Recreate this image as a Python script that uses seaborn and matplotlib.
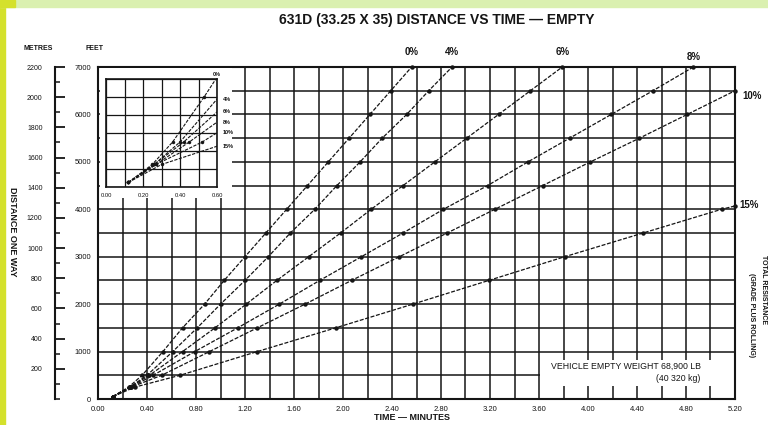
import matplotlib
matplotlib.use('Agg')
import matplotlib.pyplot as plt
import seaborn as sns
import numpy as np
import pandas as pd
from matplotlib.patches import Rectangle
from matplotlib.ticker import MultipleLocator

sns.set_theme(style='white')
plt.rcParams['font.family'] = ['Liberation Sans', 'DejaVu Sans']

# ---------------- data ----------------
grades = ['0%', '4%', '6%', '8%', '10%', '15%']

dist_0 = [50, 250, 500, 1000, 1500, 2000, 2500, 3000, 3500, 4000, 4500, 5000, 5500, 6000, 6500, 7000]
time_0 = [0.12, 0.25, 0.36, 0.53, 0.69, 0.87, 1.03, 1.20, 1.37, 1.54, 1.71, 1.88, 2.05, 2.22, 2.39, 2.56]

dist_4 = [50, 250, 500, 1000, 1500, 2000, 2500, 3000, 3500, 4000, 4500, 5000, 5500, 6000, 6500, 7000]
time_4 = [0.12, 0.26, 0.40, 0.61, 0.81, 1.00, 1.20, 1.39, 1.57, 1.77, 1.95, 2.14, 2.32, 2.52, 2.70, 2.89]

dist_6 = [50, 250, 500, 1000, 1500, 2000, 2500, 3000, 3500, 4000, 4500, 5000, 5500, 6000, 6500, 7000]
time_6 = [0.12, 0.26, 0.42, 0.69, 0.955, 1.21, 1.46, 1.72, 1.98, 2.23, 2.49, 2.75, 3.01, 3.27, 3.53, 3.79]

dist_8 = [50, 250, 500, 1000, 1500, 2000, 2500, 3000, 3500, 4000, 4500, 5000, 5500, 6000, 6500, 7000]
time_8 = [0.12, 0.27, 0.45, 0.79, 1.14, 1.48, 1.81, 2.15, 2.49, 2.82, 3.18, 3.51, 3.85, 4.19, 4.53, 4.86]

dist_10 = [50, 250, 500, 1000, 1500, 2000, 2500, 3000, 3500, 4000, 4500, 5000, 5500, 6000, 6500]
time_10 = [0.12, 0.27, 0.52, 0.91, 1.30, 1.69, 2.07, 2.46, 2.85, 3.24, 3.63, 4.02, 4.42, 4.81, 5.20]

dist_15 = [50, 250, 500, 1000, 1500, 2000, 2500, 3000, 3500, 4000, 4070]
time_15 = [0.12, 0.30, 0.67, 1.30, 1.94, 2.57, 3.19, 3.81, 4.45, 5.09, 5.20]

x_ticks = [0.00, 0.40, 0.80, 1.20, 1.60, 2.00, 2.40, 2.80, 3.20, 3.60, 4.00, 4.40, 4.80, 5.20]
feet_ticks = [0, 1000, 2000, 3000, 4000, 5000, 6000, 7000]
metre_ticks = [200, 400, 600, 800, 1000, 1200, 1400, 1600, 1800, 2000, 2200]
inset_x_ticks = [0.00, 0.20, 0.40, 0.60]

series = {
    '0%': (time_0, dist_0), '4%': (time_4, dist_4), '6%': (time_6, dist_6),
    '8%': (time_8, dist_8), '10%': (time_10, dist_10), '15%': (time_15, dist_15),
}
df = pd.concat([pd.DataFrame({'time': t, 'dist': d, 'grade': g}) for g, (t, d) in series.items()],
               ignore_index=True)

# ---------------- figure ----------------
W, H = 768, 425
fig = plt.figure(figsize=(W / 100, H / 100), dpi=100)
fig.patch.set_facecolor('white')

# screenshot border strips
fig.patches.append(Rectangle((0, 0), 5 / W, 1, transform=fig.transFigure, color='#d4e12c', zorder=-5))
fig.patches.append(Rectangle((0, 1 - 7 / H), 1, 7 / H, transform=fig.transFigure, color='#daf0b0', zorder=-5))
fig.patches.append(Rectangle((0, 1 - 7 / H), 15 / W, 7 / H, transform=fig.transFigure, color='#d4e12c', zorder=-4))

L, R, B, T = 98, 735, 399, 67
ax = fig.add_axes([L / W, (H - B) / H, (R - L) / W, (B - T) / H])

ink = '#151515'
sns.lineplot(data=df, x='time', y='dist', units='grade', estimator=None, ax=ax,
             color=ink, lw=0.9, linestyle=(0, (3.2, 1.3)), marker='o', markersize=3.2,
             markeredgewidth=0, zorder=3, legend=False, clip_on=False)

ax.set_xlim(0, 5.2)
ax.set_ylim(0, 7000)
ax.set_xticks(x_ticks)
ax.set_xticklabels([f'{v:.2f}' for v in x_ticks])
ax.xaxis.set_minor_locator(MultipleLocator(0.2))
ax.set_yticks(feet_ticks)
ax.set_yticklabels([str(v) for v in feet_ticks])
ax.yaxis.set_minor_locator(MultipleLocator(500))
ax.grid(which='both', color=ink, lw=1.1)
ax.tick_params(axis='both', which='major', labelsize=5.5, length=3, width=1, color=ink,
               direction='out', pad=2, labelcolor=ink)
ax.tick_params(axis='both', which='minor', length=0)
for s in ax.spines.values():
    s.set_color(ink)
    s.set_linewidth(1.5)
ax.set_xlabel('')
ax.set_ylabel('')

# metres scale
sec = ax.secondary_yaxis(-(L - 55) / (R - L), functions=(lambda y: y * 2200 / 7000, lambda m: m * 7000 / 2200))
sec.set_yticks(metre_ticks)
sec.set_yticklabels([str(v) for v in metre_ticks])
sec.yaxis.set_minor_locator(MultipleLocator(100))
sec.tick_params(which='major', direction='in', length=7, width=1.3, labelsize=5, pad=9, color=ink,
                labelcolor=ink)
sec.tick_params(which='minor', direction='in', length=3.5, width=1.1, color=ink)
sec.spines['left'].set_linewidth(1.5)
sec.spines['left'].set_color(ink)

# grade labels at line ends
label_offsets = {'0%': (0, 11, 'center'), '4%': (0, 11, 'center'), '6%': (0, 11, 'center'),
                 '8%': (0, 7, 'center'), '10%': (5, -4, 'left'), '15%': (3, 1, 'left')}
for g, (t, d) in series.items():
    dx, dy, ha = label_offsets[g]
    ax.annotate(g, (t[-1], d[-1]), xytext=(dx, dy), textcoords='offset points', ha=ha, va='center',
                fontsize=7, fontweight='bold', color=ink, annotation_clip=False)

# vehicle weight box
ax.add_patch(Rectangle((3.61, 270), 1.58, 560, facecolor='white', edgecolor='none', zorder=2.5))
ax.text(4.92, 560, 'VEHICLE EMPTY WEIGHT 68,900 LB\n(40 320 kg)', ha='right', va='center',
        fontsize=6.3, color=ink, zorder=4, linespacing=1.35, multialignment='right')

# white area behind inset
fig.patches.append(Rectangle((100 / W, (H - 198) / H), 132 / W, 130 / H, transform=fig.transFigure,
                             facecolor='white', edgecolor='none', zorder=1))

# inset
iL, iR, iB, iT = 106, 217, 187, 79
axi = fig.add_axes([iL / W, (H - iB) / H, (iR - iL) / W, (iB - iT) / H])
axi.set_zorder(5)
sns.lineplot(data=df, x='time', y='dist', units='grade', estimator=None, ax=axi,
             color=ink, lw=0.8, linestyle=(0, (3, 1.2)), marker='o', markersize=2.5,
             markeredgewidth=0, legend=False)
axi.set_xlim(0, 0.6)
axi.set_ylim(0, 1200)
axi.set_xticks(inset_x_ticks)
axi.set_xticklabels([f'{v:.2f}' for v in inset_x_ticks])
axi.xaxis.set_minor_locator(MultipleLocator(0.1))
axi.yaxis.set_major_locator(MultipleLocator(200))
axi.set_yticklabels([])
axi.grid(which='both', color=ink, lw=0.9)
axi.tick_params(axis='x', which='major', labelsize=4.2, length=2.5, pad=1.5, color=ink, labelcolor=ink)
axi.tick_params(axis='y', length=0)
axi.tick_params(which='minor', length=0)
axi.set_xlabel('')
axi.set_ylabel('')
for s in axi.spines.values():
    s.set_color(ink)
    s.set_linewidth(1.2)
for g, (t, d) in series.items():
    yv = float(np.interp(0.6, t, d))
    if g == '0%':
        axi.annotate(g, (0.6, 1200), xytext=(0, 3), textcoords='offset points', ha='center', va='center',
                     fontsize=4, fontweight='bold', color=ink, annotation_clip=False)
    else:
        axi.annotate(g, (0.6, yv), xytext=(4, 0), textcoords='offset points', ha='left', va='center',
                     fontsize=4, fontweight='bold', color=ink, annotation_clip=False)

# texts
fig.text(437 / W, (H - 20) / H, '631D (33.25 X 35) DISTANCE VS TIME \u2014 EMPTY', ha='center', va='center',
         fontsize=10, fontweight='bold', color=ink)
fig.text(412 / W, (H - 418) / H, 'TIME \u2014 MINUTES', ha='center', va='center', fontsize=6.5,
         fontweight='bold', color=ink)
fig.text(12 / W, (H - 232) / H, 'DISTANCE ONE WAY', rotation=270, ha='center', va='center', fontsize=6.5,
         fontweight='bold', color=ink)
fig.text(38 / W, (H - 48) / H, 'METRES', ha='center', va='center', fontsize=5, fontweight='bold', color=ink)
fig.text(95 / W, (H - 48) / H, 'FEET', ha='center', va='center', fontsize=5, fontweight='bold', color=ink)
fig.text(763 / W, (H - 290) / H, 'TOTAL RESISTANCE', rotation=270, ha='center', va='center', fontsize=5,
         fontweight='bold', color=ink)
fig.text(752 / W, (H - 315) / H, '(GRADE PLUS ROLLING)', rotation=270, ha='center', va='center', fontsize=5,
         fontweight='bold', color=ink)

fig.savefig('out.png', dpi=100, facecolor=fig.get_facecolor())
